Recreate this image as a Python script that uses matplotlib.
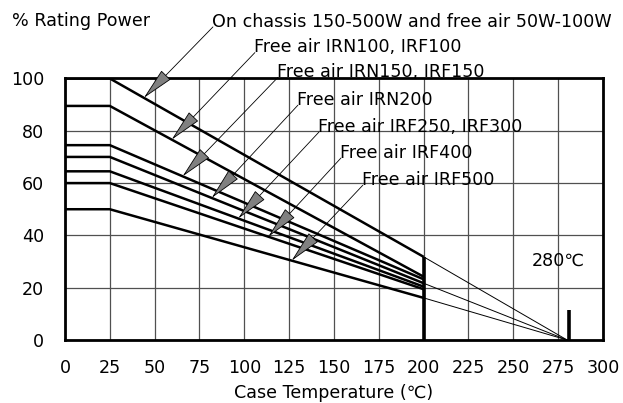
import matplotlib
matplotlib.use("Agg")
import matplotlib.pyplot as plt

plt.rcParams["font.family"] = ["DejaVu Sans", "Noto Sans CJK JP"]

# Derating curves: flat to the knee, then linear down to 200 degC
labels = [
    "On chassis 150-500W and free air 50W-100W",
    "Free air IRN100, IRF100",
    "Free air IRN150, IRF150",
    "Free air IRN200",
    "Free air IRF250, IRF300",
    "Free air IRF400",
    "Free air IRF500",
]
knee_temp = 25
end_temp = 200
zero_temp = 280
start_pct = [100, 89.5, 74.5, 70, 64.5, 60, 50]
end_pct = [31.8, 24.2, 23.2, 21.7, 20.4, 19.4, 16.1]
extrapolated = [0, 3, 6]  # curves prolonged (thin) down to 280 degC
marker_temp = 281
marker_pct = 11.5

# where each arrow hits its curve (x in degC)
arrow_temp = [44, 59.5, 65.6, 81.8, 96.6, 113.4, 126.4]
# label anchors (data coords, left / vertical centre)
label_pos = [(82, 121.7), (105.4, 111.9), (118.2, 102.4), (129.4, 91.8),
             (141.1, 81.5), (153.4, 71.6), (165.6, 61.2)]

xticks = list(range(0, 301, 25))
yticks = list(range(0, 101, 20))

FS = 12.6

fig = plt.figure(figsize=(6.23, 4.03), dpi=100)
ax = fig.add_axes([0.1043, 0.1563, 0.8636, 0.6490])

ax.set_xlim(0, 300)
ax.set_ylim(0, 100)
ax.set_xticks(xticks)
ax.set_yticks(yticks)
ax.grid(True, color="#505050", lw=0.9)
ax.set_axisbelow(True)
ax.tick_params(length=0, labelsize=FS)
ax.tick_params(axis="x", pad=14)
ax.tick_params(axis="y", pad=15)
for sp in ax.spines.values():
    sp.set_linewidth(2.0)

for s, e in zip(start_pct, end_pct):
    ax.plot([0, knee_temp, end_temp], [s, s, e], color="black", lw=1.8,
            solid_capstyle="butt", zorder=3)

for i in extrapolated:
    ax.plot([end_temp, zero_temp], [end_pct[i], 0], color="black", lw=0.7, zorder=3)

ax.plot([end_temp, end_temp], [0, max(end_pct)], color="black", lw=2.6,
        solid_capstyle="butt", zorder=4)
ax.plot([marker_temp, marker_temp], [0, marker_pct], color="black", lw=2.6,
        solid_capstyle="butt", zorder=4)

for i, (lab, (tx, ty)) in enumerate(zip(labels, label_pos)):
    s, e = start_pct[i], end_pct[i]
    xt = arrow_temp[i]
    yt = s + (e - s) * (xt - knee_temp) / (end_temp - knee_temp)
    ax.annotate("", xy=(xt, yt), xytext=(tx + 0.5, ty - 2),
                arrowprops=dict(arrowstyle="-|>,head_length=2.1,head_width=0.42",
                                fc="#808080", ec="black", lw=0.6,
                                shrinkA=0, shrinkB=0),
                annotation_clip=False, zorder=5)
    ax.text(tx, ty, lab, fontsize=FS, ha="left", va="center", zorder=6,
            clip_on=False)

ax.text(260.5, 30.2, "280℃", fontsize=FS, ha="left", va="center")

ax.set_xlabel("Case Temperature (℃)", fontsize=FS, labelpad=5)
fig.text(0.0193, 0.948, "% Rating Power", fontsize=FS, ha="left", va="center")

fig.savefig("out.png", dpi=100)
